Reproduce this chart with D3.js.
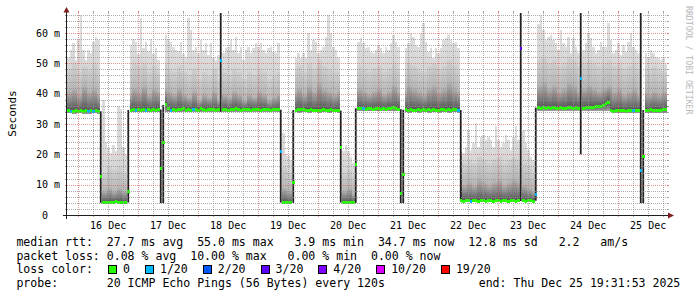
<!DOCTYPE html>
<html>
<head>
<meta charset="utf-8">
<script src="https://cdn.jsdelivr.net/npm/d3@7"></script>
<style>
  body { margin: 0; background: #fff; }
  svg { display: block; }
  text { font-family: "DejaVu Sans Mono", monospace; fill: #000; }
</style>
</head>
<body>
<svg id="chart" width="697" height="297"></svg>
<script>
// ---- data (one value per hour, 240 hours ending at the probe's end time) ----
const endTime = new Date(2025, 11, 25, 19, 31, 53);
const hourCount = 240;

// median rtt in ms, per hour
const medianRtt = [
  34.3,34.1,34.2,34.4,34.0,34.3,34.2,34.5,34.1,34.3,34.2,34.4,34.1,12.6,4.1,4.0,4.2,4.1,4.0,4.3,4.1,4.2,4.0,4.1,
  7.7,34.6,34.8,34.5,34.7,34.4,34.9,34.6,34.8,34.5,34.7,34.6,34.8,15.4,23.8,36.3,35.0,34.6,34.9,34.5,34.8,34.7,35.0,34.6,
  34.8,34.5,34.9,34.7,34.6,35.0,34.8,34.6,34.9,34.7,34.8,34.5,34.9,50.8,34.7,34.9,34.6,34.8,34.7,35.0,34.8,34.6,34.9,34.7,
  34.8,34.6,34.9,34.7,34.8,34.6,34.9,34.7,34.8,34.6,34.9,34.8,34.7,20.9,4.1,4.0,4.1,4.0,10.8,34.6,34.8,34.7,34.9,34.6,
  34.5,34.7,34.4,34.6,34.3,34.5,34.8,34.6,34.4,34.7,34.5,34.6,34.4,22.3,4.1,4.0,4.2,4.1,4.0,16.5,35.2,35.0,35.1,34.9,
  35.0,35.2,34.9,35.1,35.0,34.8,35.1,34.9,35.2,35.0,35.3,35.0,34.9,7.1,13.5,34.7,34.5,34.8,34.6,34.4,34.7,34.5,34.8,34.6,
  34.7,34.5,34.8,34.6,34.4,34.7,34.9,34.5,34.8,34.6,34.7,34.9,34.6,4.7,4.6,4.8,4.7,4.6,4.7,4.8,4.6,4.7,4.7,4.6,
  4.7,4.8,4.6,4.7,4.7,4.6,4.8,4.7,4.6,4.7,4.8,4.6,4.7,55.0,4.7,4.6,4.7,4.8,4.6,6.6,35.4,35.2,35.5,35.1,
  35.3,35.0,35.4,35.2,35.1,35.4,35.2,35.0,35.3,35.5,35.2,35.4,35.1,45.0,35.2,35.4,35.3,35.6,35.4,35.7,35.9,35.8,36.2,36.6,
  37.2,34.4,34.2,34.5,34.3,34.6,34.4,34.2,34.5,34.3,34.6,34.4,34.5,14.8,19.2,34.6,34.4,34.7,34.5,34.3,34.6,34.5,34.7,34.7
];

// slowest ping in ms, per hour
const maxRtt = [
  51.6,54.4,56.6,51.0,57.7,66.0,54.4,51.0,54.4,53.3,57.2,58.8,57.7,12.6,38.0,24.0,22.0,20.5,23.0,21.0,36.0,35.0,22.5,20.0,
  7.7,56.0,58.0,57.0,53.0,65.0,55.0,57.0,54.0,58.0,53.0,55.0,51.0,15.4,23.8,59.3,57.7,57.0,55.5,54.4,54.0,57.0,53.0,52.0,
  65.0,61.0,54.4,55.5,53.3,57.7,54.4,56.6,52.8,56.6,52.2,51.0,52.8,50.8,53.3,54.9,55.5,57.7,54.4,58.8,53.3,55.5,51.0,54.4,
  55.5,53.3,54.9,56.6,55.5,56.6,54.4,53.3,54.9,55.5,53.8,53.3,56.6,20.9,27.0,20.0,19.5,18.0,10.8,51.6,53.3,51.6,53.3,51.6,
  59.9,54.4,57.7,57.2,53.3,54.4,55.5,58.8,65.8,59.9,55.5,54.4,52.2,22.3,21.0,23.0,21.0,19.0,17.0,16.5,57.0,58.3,56.6,54.9,
  55.5,53.8,53.3,54.4,56.0,54.9,53.3,55.5,54.4,56.6,59.3,57.2,55.5,7.1,13.5,55.0,56.6,59.9,58.8,56.0,55.5,59.9,63.2,57.0,
  53.9,54.9,51.6,54.9,53.3,54.9,57.7,58.3,59.3,57.7,56.6,57.2,54.9,20.9,20.3,22.5,28.0,21.5,23.6,30.3,22.5,25.8,26.4,24.7,
  25.8,24.7,22.5,29.2,24.7,22.5,23.6,26.4,24.7,21.4,25.8,29.2,24.7,55.0,28.0,23.6,21.4,19.2,18.1,6.6,63.0,65.8,61.0,57.7,
  58.8,59.3,57.7,56.6,54.4,61.0,56.6,55.5,58.8,53.3,58.3,55.5,53.3,45.0,54.4,56.6,59.9,58.3,55.5,53.3,54.4,57.2,55.5,55.5,
  63.2,57.7,53.3,54.4,56.6,52.8,56.0,53.8,57.2,59.9,55.5,54.4,53.3,14.8,19.2,53.3,52.2,54.4,53.3,52.2,51.6,51.0,52.2,49.9
];

// two-hour blocks: fastest ping, upper quartile, 90th percentile (ms)
const minRtt = [
  33.5,33.4,33.5,33.3,33.4,33.5,33.4, 3.9,3.9,3.9,3.9,3.9,
  33.8,33.9,33.8,33.9,33.8,33.9,33.8,33.9,
  33.9,34.0,33.9,34.0,33.9,34.0,33.9,34.0,33.9,34.0,33.9,34.0,33.9,34.0,33.9,34.0,33.9,34.0,33.9,34.0,33.9,34.0,33.9,
  3.9,3.9,
  33.8,33.7,33.8,33.7,33.8,33.7,33.8,33.7,33.8,33.7,
  3.9,3.9,3.9,
  34.2,34.3,34.2,34.3,34.2,34.3,34.2,34.3,34.2,
  33.8,33.7,33.8,33.7,33.8,33.7,33.8,33.7,33.8,33.7,33.8,33.7,
  4.3,4.4,4.3,4.4,4.3,4.4,4.3,4.4,4.3,4.4,4.3,4.4,4.3,4.4,4.3,
  34.4,34.4,34.4,34.4,34.4,34.4,34.4,34.4,34.4,34.4,34.4,34.4,34.4,34.4,34.4,
  33.6,33.6,33.6,33.6,33.6,33.6,33.6,33.6,33.6,33.6,33.6
];
const q3Rtt = [
  41,42,40,43,41,42,40, 8,9,8,9,8,
  40,42,41,43,40,42,41,42,
  41,40,42,40,39,41,38,40,39,41,38,40,39,41,40,38,40,39,41,40,38,39,40,
  9,8,
  41,42,40,43,41,44,42,41,40,41,
  8,9,7,
  42,41,40,41,42,40,41,43,41,
  41,43,42,41,40,42,43,41,42,44,42,41,
  10,11,10,12,11,10,11,12,10,11,12,11,10,9,8,
  43,44,42,43,41,42,44,43,41,42,43,42,41,42,43,41,42,40,41,42,40,41,40,41,40,41
];
const q9Rtt = [
  48,50,47,49,48,50,48, 14,16,15,16,14,
  48,50,49,50,47,49,47,50,
  48,47,49,47,46,48,45,47,46,48,45,47,46,48,47,45,47,46,48,47,45,46,47,
  16,14,
  48,49,47,50,48,51,49,48,47,47,
  14,15,13,
  49,48,47,48,49,47,48,50,48,
  48,50,49,48,47,49,50,48,49,51,49,48,
  17,18,17,19,18,17,18,19,17,18,19,18,17,16,14,
  51,52,50,51,49,50,52,51,49,50,51,50,49,50,51,49,50,48,49,50,48,49,48,49,48,47
];

// hours where the pings jumped between levels (ms range of the spread)
const jumpHours = [13, 24, 37, 38, 61, 85, 90, 109, 115, 133, 134, 157, 181, 187, 205, 229, 230];
const jumpLow   = [4.0, 4.1, 3.9, 3.9, 34.0, 4.1, 4.0, 4.1, 4.0, 3.9, 3.9, 4.6, 4.6, 4.7, 20.0, 3.9, 3.9];
const jumpHigh  = [34.2, 34.6, 34.8, 36.3, 67, 34.7, 34.6, 34.4, 35.2, 34.9, 34.7, 34.6, 67, 35.4, 67, 67, 34.6];

// hours with lost pings (out of 20)
const lossHours  = [1, 8, 10, 27, 31, 41, 50, 61, 85, 118, 156, 161, 181, 187, 205, 226, 229];
const lossCounts = [1, 1, 1, 1, 1, 1, 1, 1, 1, 1, 1, 1, 3, 1, 1, 1, 1];

const lossSteps  = [0, 1, 2, 3, 4, 10, 19];
const lossLabels = ["0", "1/20", "2/20", "3/20", "4/20", "10/20", "19/20"];
const lossColors = ["#26ff00", "#00b8ff", "#0059ff", "#5e00ff", "#7e00ff", "#dd00ff", "#ff0000"];

const yTicks = [0, 10, 20, 30, 40, 50, 60];

const legendRows = [
  "median rtt:  27.7 ms avg  55.0 ms max   3.9 ms min  34.7 ms now  12.8 ms sd   2.2   am/s",
  "packet loss: 0.08 % avg  10.00 % max   0.00 % min  0.00 % now",
  "loss color:",
  "probe:       20 ICMP Echo Pings (56 Bytes) every 120s"
];
const endLabel = "end: Thu Dec 25 19:31:53 2025";

// ---- layout ----
const X0 = 67, X1 = 667, Y0 = 215, Y1 = 13;
const startTime = d3.timeHour.offset(endTime, -hourCount);

const x = d3.scaleTime().domain([startTime, endTime]).range([X0, X1]);
const y = d3.scaleLinear().domain([0, 66.6]).range([Y0, Y1]);

const svg = d3.select("#chart");
const defs = svg.append("defs");

function grad(id, bottom, top) {
  const g = defs.append("linearGradient").attr("id", id)
    .attr("x1", 0).attr("y1", 1).attr("x2", 0).attr("y2", 0);
  g.append("stop").attr("offset", 0).attr("stop-color", bottom);
  g.append("stop").attr("offset", 1).attr("stop-color", top);
}
grad("gBelow", "#a0a0a0", "#555555");
grad("gMid", "#555555", "#b6b6b6");
grad("gHigh", "#b6b6b6", "#cfcfcf");
grad("gTop", "#d5d5d5", "#dddddd");

defs.append("clipPath").attr("id", "plotClip")
  .append("rect").attr("x", X0).attr("y", Y1).attr("width", X1 - X0).attr("height", Y0 - Y1);

// per hour bins
const bins = d3.range(hourCount).map(h => {
  const b = Math.floor(h / 2);
  const med = medianRtt[h], top = maxRtt[h];
  const lo = Math.min(minRtt[b], med);
  const q3 = Math.max(med, Math.min(q3Rtt[b], top));
  const q9 = Math.max(q3, Math.min(q9Rtt[b], top));
  return { h, t0: d3.timeHour.offset(startTime, h), t1: d3.timeHour.offset(startTime, h + 1), med, lo, q3, q9, top };
});

const lossOf = h => {
  const i = lossHours.indexOf(h);
  return i < 0 ? 0 : lossCounts[i];
};
const lossColor = c => {
  let k = 0;
  lossSteps.forEach((s, i) => { if (c >= s) k = i; });
  return lossColors[k];
};

const plot = svg.append("g").attr("clip-path", "url(#plotClip)");

// smoke
const smoke = bins.filter(d => d.top > d.med);
const layers = [
  ["gBelow", d => d.lo, d => d.med],
  ["gMid", d => d.med, d => d.q3],
  ["gHigh", d => d.q3, d => d.q9],
  ["gTop", d => d.q9, d => d.top]
];
layers.forEach(([id, lo, hi]) => {
  plot.append("g").attr("shape-rendering", "crispEdges")
    .selectAll("rect")
    .data(smoke.filter(d => hi(d) > lo(d)))
    .join("rect")
      .attr("x", d => x(d.t0))
      .attr("width", d => x(d.t1) - x(d.t0))
      .attr("y", d => y(hi(d)))
      .attr("height", d => y(lo(d)) - y(hi(d)))
      .attr("fill", `url(#${id})`);
});

// jumps
plot.append("g").selectAll("rect")
  .data(jumpHours.map((h, i) => ({ h, lo: jumpLow[i], hi: jumpHigh[i] })))
  .join("rect")
    .attr("x", d => (x(bins[d.h].t0) + x(bins[d.h].t1)) / 2 - 0.9)
    .attr("width", 1.8)
    .attr("y", d => y(d.hi))
    .attr("height", d => y(d.lo) - y(d.hi))
    .attr("fill", "#222");

// grid (drawn over the smoke like rrdtool)
const gridCol = "rgba(143,143,143,0.75)";
const mgridCol = "rgba(222,79,79,0.6)";
const grid = svg.append("g").attr("shape-rendering", "crispEdges").attr("stroke-width", 1);

const minorY = d3.range(2, 66.6, 2).filter(v => v % 10 !== 0);
const majorY = yTicks.filter(v => v > 0);
const minorX = d3.timeHour.every(6).range(startTime, endTime).filter(d => d.getHours() !== 0);
const majorX = d3.timeDay.range(startTime, endTime);

function hLines(vals, col) {
  vals.forEach(v => {
    const yy = Math.round(y(v)) + 0.5;
    grid.append("line").attr("x1", X0 - 2).attr("x2", X1 + 2).attr("y1", yy).attr("y2", yy)
      .attr("stroke", col).attr("stroke-dasharray", "1,1");
    grid.append("line").attr("x1", X0 - 2).attr("x2", X0).attr("y1", yy).attr("y2", yy).attr("stroke", col);
    grid.append("line").attr("x1", X1).attr("x2", X1 + 2).attr("y1", yy).attr("y2", yy).attr("stroke", col);
  });
}
function vLines(vals, col) {
  vals.forEach(t => {
    const xx = Math.round(x(t)) + 0.5;
    grid.append("line").attr("x1", xx).attr("x2", xx).attr("y1", Y1 - 2).attr("y2", Y0 + 2)
      .attr("stroke", col).attr("stroke-dasharray", "1,1");
    grid.append("line").attr("x1", xx).attr("x2", xx).attr("y1", Y0).attr("y2", Y0 + 2).attr("stroke", col);
    grid.append("line").attr("x1", xx).attr("x2", xx).attr("y1", Y1 - 2).attr("y2", Y1).attr("stroke", col);
  });
}
hLines(minorY, gridCol);
vLines(minorX, gridCol);
hLines(majorY, mgridCol);
vLines(majorX, mgridCol);

// median line coloured by loss
plot.append("g").attr("shape-rendering", "crispEdges")
  .selectAll("rect")
  .data(bins)
  .join("rect")
    .attr("x", d => x(d.t0))
    .attr("width", d => x(d.t1) - x(d.t0))
    .attr("y", d => y(d.med) - 1.5)
    .attr("height", 3)
    .attr("fill", d => lossColor(lossOf(d.h)));

// axes and arrows
const axis = svg.append("g").attr("shape-rendering", "crispEdges");
axis.append("line").attr("x1", X0 - 4).attr("x2", X1 + 3).attr("y1", Y0 + 0.5).attr("y2", Y0 + 0.5).attr("stroke", "#1f1f1f");
axis.append("line").attr("x1", X0 - 0.5).attr("x2", X0 - 0.5).attr("y1", Y0 + 4).attr("y2", Y1 - 2).attr("stroke", "#1f1f1f");
svg.append("path").attr("d", `M${X0 - 3.5},${Y1 - 0.5} L${X0 + 2.5},${Y1 - 0.5} L${X0 - 0.5},${Y1 - 6} Z`).attr("fill", "#801f1f");
svg.append("path").attr("d", `M${X1 + 1},${Y0 - 2.5} L${X1 + 1},${Y0 + 3.5} L${X1 + 7},${Y0 + 0.5} Z`).attr("fill", "#801f1f");

// y labels
svg.append("g").selectAll("text")
  .data(yTicks)
  .join("text")
    .attr("x", 60)
    .attr("y", d => y(d) + 3.5)
    .attr("text-anchor", "end")
    .attr("font-size", 10)
    .text(d => d === 0 ? "0\u00a0\u00a0" : d + "\u00a0m");

// x labels at noon of each day
const fmtDay = d3.timeFormat("%d %b");
svg.append("g").selectAll("text")
  .data(majorX.map(d => d3.timeHour.offset(d, 12)).filter(d => d < endTime))
  .join("text")
    .attr("x", d => x(d))
    .attr("y", 228.5)
    .attr("text-anchor", "middle")
    .attr("font-size", 10)
    .text(d => fmtDay(d).replace(" ", "\u00a0"));

svg.append("text")
  .attr("transform", "translate(15.5,113.5) rotate(-90)")
  .attr("text-anchor", "middle")
  .attr("font-size", 11)
  .text("Seconds");

svg.append("text")
  .attr("transform", "translate(685.5,6) rotate(90)")
  .attr("font-size", 8.2)
  .style("fill", "#b8b8b8")
  .text("RRDTOOL / TOBI OETIKER".replace(/ /g, "\u00a0"));

// legend
const lg = svg.append("g").attr("font-size", 11.55);
const rowY = [245.7, 259.7, 273.3, 287.3];
legendRows.forEach((s, i) => {
  lg.append("text").attr("x", 16.4).attr("y", rowY[i]).text(s.replace(/ /g, "\u00a0"));
});
lg.append("text").attr("x", 680.3).attr("y", rowY[3]).attr("text-anchor", "end")
  .text(endLabel.replace(/ /g, "\u00a0"));

let bx = 108;
lossLabels.forEach((lab, i) => {
  lg.append("rect").attr("x", bx + 0.5).attr("y", 265.5).attr("width", 8).attr("height", 8)
    .attr("fill", lossColors[i]).attr("stroke", "#000").attr("stroke-width", 1)
    .attr("shape-rendering", "crispEdges");
  lg.append("text").attr("x", bx + 15).attr("y", rowY[2]).text(lab);
  bx += lab.length * 6.95 + 30;
});
</script>
</body>
</html>
